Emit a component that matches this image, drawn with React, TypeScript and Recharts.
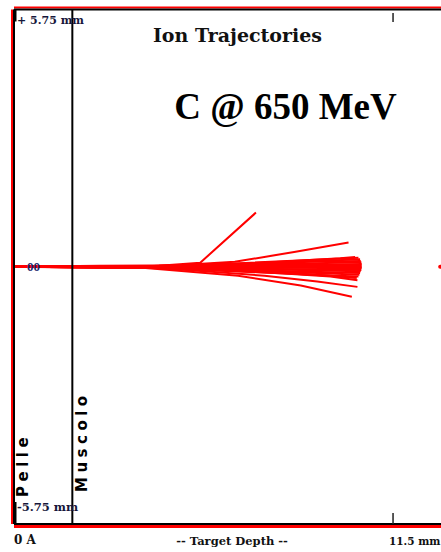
import { LineChart, Line, XAxis, YAxis, ReferenceLine, ReferenceDot } from 'recharts';

// depth (mm) along beam, lateral (mm)
const lateralMax = 5.75;
const tickDepth = 11.5;
const muscleBoundary = 1.77;

type Pt = { x: number; y: number };
const P = (x: number, y: number): Pt => ({ x, y });

const branchUp: Pt[] = [P(0, 0), P(4.4, 0.02), P(5.65, 0.09), P(7.34, 1.21)];
const upperFan: Pt[] = [P(0, 0), P(4.2, 0), P(6.7, 0.11), P(8.5, 0.33), P(10.15, 0.54)];
const lowerFan1: Pt[] = [P(0, 0), P(3.9, -0.02), P(6.8, -0.2), P(8.7, -0.42), P(10.25, -0.67)];
const lowerFan2: Pt[] = [P(0, 0), P(4.4, -0.03), P(7.6, -0.2), P(9.2, -0.33), P(10.42, -0.45)];
const lowerFan3: Pt[] = [P(0, 0), P(4.9, -0.03), P(8.2, -0.15), P(9.6, -0.22), P(10.42, -0.3)];

const bundle: Pt[][] = [
  [P(0, 0), P(4.0, 0.01), P(6.9, 0.08), P(9.3, 0.16), P(10.45, 0.2)],
  [P(0, 0), P(4.3, 0.0), P(7.2, 0.07), P(9.6, 0.14), P(10.5, 0.17)],
  [P(0, 0), P(3.8, 0.0), P(6.6, 0.05), P(9.0, 0.11), P(10.52, 0.13)],
  [P(0, 0), P(4.6, 0.01), P(7.5, 0.05), P(9.8, 0.09), P(10.54, 0.1)],
  [P(0, 0), P(4.1, -0.01), P(7.0, 0.03), P(9.4, 0.05), P(10.55, 0.06)],
  [P(0, 0), P(4.7, 0.0), P(7.7, 0.01), P(9.9, 0.03), P(10.55, 0.03)],
  [P(0, 0), P(3.6, 0.0), P(6.8, -0.01), P(9.1, 0.01), P(10.55, 0.0)],
  [P(0, 0), P(4.5, 0.0), P(7.3, -0.02), P(9.5, -0.03), P(10.55, -0.03)],
  [P(0, 0), P(3.9, -0.01), P(6.7, -0.04), P(9.2, -0.06), P(10.54, -0.07)],
  [P(0, 0), P(4.2, 0.0), P(7.1, -0.05), P(9.7, -0.09), P(10.52, -0.1)],
  [P(0, 0), P(3.7, -0.01), P(6.9, -0.07), P(9.3, -0.12), P(10.5, -0.14)],
  [P(0, 0), P(4.4, -0.01), P(7.4, -0.09), P(9.6, -0.15), P(10.48, -0.18)],
  [P(0, 0), P(4.0, -0.02), P(7.0, -0.11), P(9.4, -0.19), P(10.45, -0.22)],
  [P(0, 0), P(4.8, -0.02), P(7.9, -0.13), P(9.8, -0.21), P(10.4, -0.25)],
  [P(0, 0), P(5.2, 0.02), P(7.8, 0.1), P(9.9, 0.19), P(10.35, 0.22)],
  [P(0, 0), P(5.0, -0.02), P(8.0, -0.12), P(9.9, -0.22), P(10.35, -0.24)],
  [P(0, 0), P(2.6, 0.02), P(4.2, 0.03), P(6.0, 0.05), P(8.0, 0.08)],
  [P(0, 0), P(2.6, -0.02), P(4.2, -0.03), P(6.0, -0.05), P(8.0, -0.06)],
];

const trajectories: Pt[][] = [...bundle, branchUp, upperFan, lowerFan1, lowerFan2, lowerFan3];

const strayIon: Pt = P(12.93, 0);

const W = 441; // visible width
const H = 552;
const chartW = 470; // plot runs past the right edge, like the cropped original
const margin = { top: 9.5, right: 0, left: 14, bottom: 28 };
const pxPerDepthMm = 32.96;
const depthMax = (chartW - margin.left - margin.right) / pxPerDepthMm;
const navy = '#16163a';
const serif = '"DejaVu Serif", serif';

export default function App() {
  const plotH = H - margin.top - margin.bottom;
  const pxPerMm = plotH / (2 * lateralMax);
  const dy = (px: number) => px / pxPerMm;
  const dx = (px: number) => px / pxPerDepthMm;

  return (
    <div style={{ position: 'absolute', left: 0, top: 0, width: W, height: H, background: '#fff', overflow: 'hidden' }}>
      <LineChart width={chartW} height={H} margin={margin}>
        <XAxis type="number" dataKey="x" domain={[0, depthMax]} hide allowDataOverflow />
        <YAxis type="number" dataKey="y" domain={[-lateralMax, lateralMax]} hide allowDataOverflow />

        {trajectories.map((t, i) => (
          <Line
            key={i}
            data={t}
            dataKey="y"
            stroke="#ff0000"
            strokeWidth={2}
            dot={false}
            activeDot={false}
            isAnimationActive={false}
          />
        ))}
        <ReferenceDot x={strayIon.x} y={strayIon.y} r={2} fill="#ff0000" stroke="none" ifOverflow="visible" />

        {/* frame */}
        <ReferenceLine y={lateralMax + dy(2)} stroke="#ff0000" strokeWidth={2} ifOverflow="visible" />
        <ReferenceLine y={lateralMax} stroke="#000" strokeWidth={2} ifOverflow="visible" />
        <ReferenceLine y={-lateralMax - dy(2.5)} stroke="#ff0000" strokeWidth={3} ifOverflow="visible" />
        <ReferenceLine y={-lateralMax} stroke="#000" strokeWidth={2} ifOverflow="visible" />
        <ReferenceLine x={-dx(2)} stroke="#ff0000" strokeWidth={2} ifOverflow="visible" />
        <ReferenceLine x={0} stroke="#000" strokeWidth={2} ifOverflow="visible" />
        <ReferenceLine x={muscleBoundary} stroke="#000" strokeWidth={2} ifOverflow="visible" />

        {/* ticks */}
        <ReferenceLine stroke="#000" strokeWidth={3} ifOverflow="visible"
          segment={[{ x: dx(1), y: lateralMax }, { x: dx(1), y: lateralMax - dy(12) }]} />
        <ReferenceLine stroke="#000" strokeWidth={3} ifOverflow="visible"
          segment={[{ x: dx(1), y: -lateralMax }, { x: dx(1), y: -lateralMax + dy(22) }]} />
        <ReferenceLine stroke="#222" strokeWidth={1.5} ifOverflow="visible"
          segment={[{ x: tickDepth, y: lateralMax - dy(3.5) }, { x: tickDepth, y: lateralMax - dy(12.5) }]} />
        <ReferenceLine stroke="#222" strokeWidth={1.5} ifOverflow="visible"
          segment={[{ x: tickDepth, y: -lateralMax + dy(11) }, { x: tickDepth, y: -lateralMax }]} />
      </LineChart>

      <svg width={W} height={H} style={{ position: 'absolute', left: 0, top: 0, pointerEvents: 'none' }}>
        <g fontFamily={serif} fontWeight="bold" fill={navy}>
          <text x={17} y={24} fontSize={11}>+ 5.75 mm</text>
          <text x={17} y={511} fontSize={11.5}>-5.75 mm</text>
          <text x={14} y={544} fontSize={12} fill="#111">0 A</text>
          <text x={232} y={545} fontSize={11.5} textAnchor="middle" fill="#111">-- Target Depth --</text>
          <text x={389} y={545} fontSize={10.5} fill="#111">11.5 mm</text>
          <text x={237.5} y={42} fontSize={19} textAnchor="middle" fill="#111">Ion Trajectories</text>
        </g>
        <text x={27} y={271} fontSize={13} fontWeight="bold" fontFamily='"Liberation Serif", serif' fill="#1c2a6e">00</text>
        <text x={285.5} y={119} fontSize={37} fontWeight="bold" textAnchor="middle"
          fontFamily='"Liberation Serif", serif' fill="#000">C @ 650 MeV</text>
        <g fontFamily='"DejaVu Sans", sans-serif' fontWeight="bold" fontSize={15} fill="#000">
          <text transform="translate(28,497) rotate(-90)" letterSpacing={4.5}>Pelle</text>
          <text transform="translate(87,492) rotate(-90)" letterSpacing={4.5}>Muscolo</text>
        </g>
      </svg>
    </div>
  );
}
